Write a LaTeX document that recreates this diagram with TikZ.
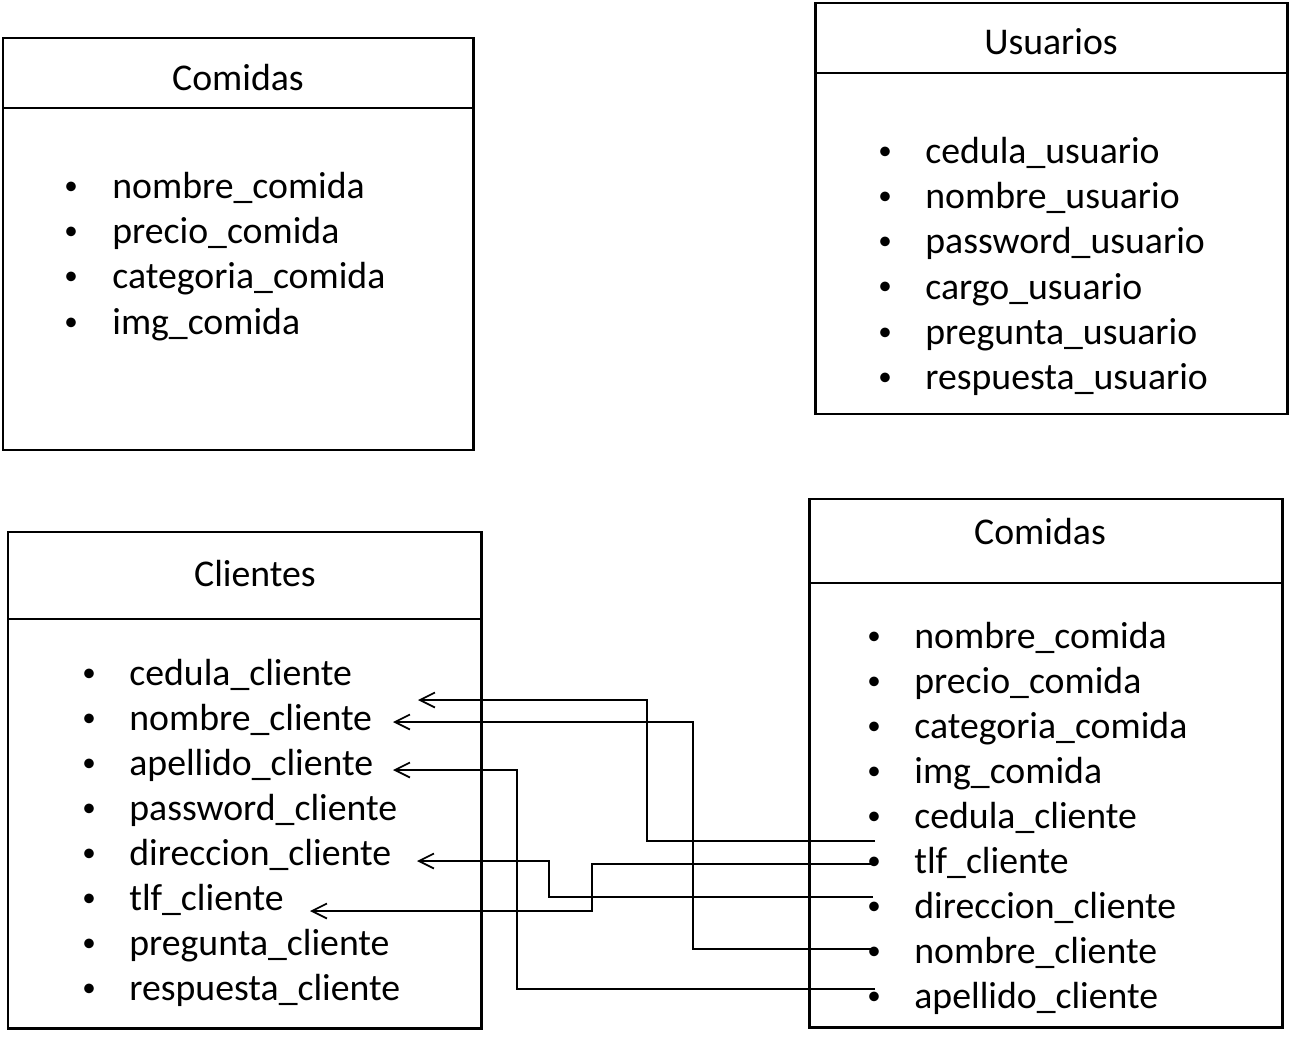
\documentclass[tikz,border=0pt]{standalone}
\usepackage{fontspec}
\setmainfont{Carlito}
\usetikzlibrary{arrows.meta}

\begin{document}
\begin{tikzpicture}[x=0.02cm, y=-0.02cm, font=\fontsize{21.5}{25}\selectfont,
  tabla/.style={draw, line width=1.7pt},
  titulo/.style={anchor=base, inner sep=0pt},
  campo/.style={anchor=base west, inner sep=0pt},
  punto/.style={anchor=base, inner sep=0pt, font=\fontsize{15.4}{16}\selectfont},
  enlace/.style={draw, line width=1pt, -{Straight Barb[length=3mm, width=3mm]}}
]
  \useasboundingbox (0,0) rectangle (1290,1040);
  % tables
  \draw[tabla] (3,38) rectangle (473,450);     \draw[tabla] (3,108) -- (473,108);
  \draw[tabla] (815,3) rectangle (1287,414);   \draw[tabla] (815,73) -- (1287,73);
  \draw[tabla] (8,532) rectangle (481,1028);   \draw[tabla] (8,619) -- (481,619);
  \draw[tabla] (809,499) rectangle (1282,1027); \draw[tabla] (809,583) -- (1282,583);
  % Comidas (top left)
  \node[titulo] (tComidas) at (238,91) {Comidas};
  \node[punto] (a1b) at (71,195) {\textbullet}; \node[campo] (a1) at (112,199) {nombre\_comida};
  \node[punto] (a2b) at (71,240) {\textbullet}; \node[campo] (a2) at (112,244) {precio\_comida};
  \node[punto] (a3b) at (71,285) {\textbullet}; \node[campo] (a3) at (112,289) {categoria\_comida};
  \node[punto] (a4b) at (71,330) {\textbullet}; \node[campo] (a4) at (112,334) {img\_comida};
  % Usuarios
  \node[titulo] (tUsuarios) at (1051,55) {Usuarios};
  \node[punto] (u1b) at (885,160) {\textbullet}; \node[campo] (u1) at (925,164) {cedula\_usuario};
  \node[punto] (u2b) at (885,205) {\textbullet}; \node[campo] (u2) at (925,209) {nombre\_usuario};
  \node[punto] (u3b) at (885,250) {\textbullet}; \node[campo] (u3) at (925,254) {password\_usuario};
  \node[punto] (u4b) at (885,295) {\textbullet}; \node[campo] (u4) at (925,299) {cargo\_usuario};
  \node[punto] (u5b) at (885,340) {\textbullet}; \node[campo] (u5) at (925,344) {pregunta\_usuario};
  \node[punto] (u6b) at (885,385) {\textbullet}; \node[campo] (u6) at (925,389) {respuesta\_usuario};
  % Clientes
  \node[titulo] (tClientes) at (255,586) {Clientes};
  \node[punto] (c1b) at (89,681) {\textbullet}; \node[campo] (c1) at (129,685) {cedula\_cliente};
  \node[punto] (c2b) at (89,726) {\textbullet}; \node[campo] (c2) at (129,730) {nombre\_cliente};
  \node[punto] (c3b) at (89,771) {\textbullet}; \node[campo] (c3) at (129,775) {apellido\_cliente};
  \node[punto] (c4b) at (89,816) {\textbullet}; \node[campo] (c4) at (129,820) {password\_cliente};
  \node[punto] (c5b) at (89,861) {\textbullet}; \node[campo] (c5) at (129,865) {direccion\_cliente};
  \node[punto] (c6b) at (89,906) {\textbullet}; \node[campo] (c6) at (129,910) {tlf\_cliente};
  \node[punto] (c7b) at (89,951) {\textbullet}; \node[campo] (c7) at (129,955) {pregunta\_cliente};
  \node[punto] (c8b) at (89,996) {\textbullet}; \node[campo] (c8) at (129,1000) {respuesta\_cliente};
  % Comidas (bottom right)
  \node[titulo] (tPedidos) at (1040,544) {Comidas};
  \node[punto] (p1b) at (874,644) {\textbullet};  \node[campo] (p1) at (914,648) {nombre\_comida};
  \node[punto] (p2b) at (874,689) {\textbullet};  \node[campo] (p2) at (914,693) {precio\_comida};
  \node[punto] (p3b) at (874,734) {\textbullet};  \node[campo] (p3) at (914,738) {categoria\_comida};
  \node[punto] (p4b) at (874,779) {\textbullet};  \node[campo] (p4) at (914,783) {img\_comida};
  \node[punto] (p5b) at (874,824) {\textbullet};  \node[campo] (p5) at (914,828) {cedula\_cliente};
  \node[punto] (p6b) at (874,869) {\textbullet};  \node[campo] (p6) at (914,873) {tlf\_cliente};
  \node[punto] (p7b) at (874,914) {\textbullet};  \node[campo] (p7) at (914,918) {direccion\_cliente};
  \node[punto] (p8b) at (874,959) {\textbullet};  \node[campo] (p8) at (914,963) {nombre\_cliente};
  \node[punto] (p9b) at (874,1004) {\textbullet}; \node[campo] (p9) at (914,1008) {apellido\_cliente};
  % link ends
  \coordinate (s1) at (875,841); \coordinate (e1) at (418,700);
  \coordinate (s2) at (875,949); \coordinate (e2) at (393,722);
  \coordinate (s3) at (875,989); \coordinate (e3) at (393,770);
  \coordinate (s4) at (873,897); \coordinate (e4) at (417,861);
  \coordinate (s5) at (875,864); \coordinate (e5) at (310,911);
  % links
  \draw[enlace] (s1) -- ++(-228,0) |- (e1);
  \draw[enlace] (s2) -- ++(-182,0) |- (e2);
  \draw[enlace] (s3) -- ++(-358,0) |- (e3);
  \draw[enlace] (s4) -- ++(-324,0) |- (e4);
  \draw[enlace] (s5) -- ++(-283,0) |- (e5);
\end{tikzpicture}
\end{document}
